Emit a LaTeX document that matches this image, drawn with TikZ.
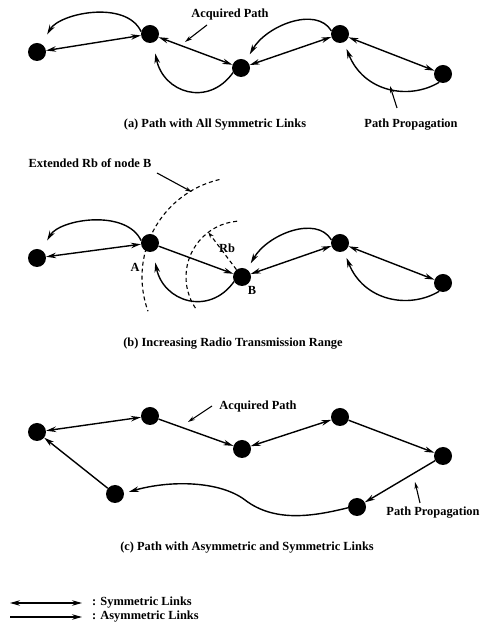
\documentclass[tikz,border=0pt]{standalone}
\usepackage{fontspec}
\setmainfont{Liberation Serif}
\usetikzlibrary{arrows.meta}
\tikzset{
  dot/.style={circle,fill=black,minimum size=18pt,inner sep=0pt},
  sym/.style={{Stealth[length=10pt,width=5.5pt]}-{Stealth[length=10pt,width=5.5pt]}, line width=1.4pt},
  asym/.style={-{Stealth[length=10pt,width=5.5pt]}, line width=1.4pt},
  lbl/.style={font=\bfseries\fontsize{12.4}{14}\selectfont, inner sep=0pt},
  pointer/.style={-{Stealth[length=7pt,width=4pt]}, line width=1.1pt},
  rng/.style={line width=1.1pt, dash pattern=on 4pt off 3pt}
}
\begin{document}
\begin{tikzpicture}[x=1pt,y=1pt]
\useasboundingbox (0,0) rectangle (482,628);
% ---------- (a) ----------
\node[dot] (a1) at (37,576) {};
\node[dot] (a2) at (150,594) {};
\node[dot] (a3) at (241,560) {};
\node[dot] (a4) at (340,594) {};
\node[dot] (a5) at (443,554) {};
\draw[sym] (a1) -- (a2);
\draw[sym] (a2) -- (a3);
\draw[sym] (a3) -- (a4);
\draw[sym] (a4) -- (a5);
\draw[asym, shorten >=11pt] (a2.165) .. controls +(-15,32) and +(18,31) .. (a1.60);
\draw[asym, shorten >=11pt] (a3.210) .. controls +(-25,-35) and +(10,-50) .. (a2.290);
\draw[asym, shorten >=7pt] (a4.160) .. controls +(-15,25) and +(20,35) .. (a3.55);
\draw[asym, shorten >=7pt] (a5.245) .. controls +(-30,-18) and +(20,-50) .. (a4.295);
\node[lbl] (acqa) at (230,613) {Acquired Path};
\coordinate (pa1) at (207,603);
\coordinate (pa2) at (185,586);
\draw[pointer] (pa1) -- (pa2);
\node[lbl] (propa) at (411,503) {Path Propagation};
\coordinate (pa3) at (397,520);
\coordinate (pa4) at (390,542);
\draw[pointer] (pa3) -- (pa4);
\node[lbl] (capa) at (215,503) {(a) Path with All Symmetric Links};
% ---------- (b) ----------
\node[dot] (b1) at (37,370) {};
\node[dot] (b2) at (150,385) {};
\node[dot] (b3) at (242,351) {};
\node[dot] (b4) at (340,385) {};
\node[dot] (b5) at (443,345) {};
\draw[sym] (b1) -- (b2);
\draw[asym] (b2) -- (b3);
\draw[sym] (b3) -- (b4);
\draw[sym] (b4) -- (b5);
\draw[asym, shorten >=11pt] (b2.165) .. controls +(-15,32) and +(18,31) .. (b1.60);
\draw[asym, shorten >=11pt] (b3.210) .. controls +(-25,-35) and +(10,-50) .. (b2.290);
\draw[asym, shorten >=7pt] (b4.160) .. controls +(-15,25) and +(20,35) .. (b3.55);
\draw[asym, shorten >=7pt] (b5.245) .. controls +(-30,-18) and +(20,-50) .. (b4.295);
\draw[rng] (b3) ++(103:100) arc[start angle=103, end angle=200, radius=100];
\draw[rng] (b3) ++(95:56) arc[start angle=95, end angle=215, radius=56];
\draw[rng, -{Stealth[length=6pt,width=4pt]}] (b3) -- ++(127:56);
\node[lbl] (rb) at (227,380) {Rb};
\node[lbl] (la) at (135,361) {A};
\node[lbl] (lb) at (252,338) {B};
\node[lbl] (ext) at (90,465) {Extended Rb of node B};
\coordinate (pb1) at (157,455);
\coordinate (pb2) at (192,436);
\draw[pointer] (pb1) -- (pb2);
\node[lbl] (capb) at (233,284) {(b) Increasing Radio Transmission Range};
% ---------- (c) ----------
\node[dot] (c1) at (37,196) {};
\node[dot] (c2) at (150,212) {};
\node[dot] (c3) at (242,179) {};
\node[dot] (c4) at (340,211) {};
\node[dot] (c5) at (443,172) {};
\node[dot] (c6) at (357,121) {};
\node[dot] (c7) at (115,134) {};
\draw[sym] (c1) -- (c2);
\draw[asym] (c2) -- (c3);
\draw[sym] (c3) -- (c4);
\draw[asym] (c4) -- (c5);
\draw[asym] (c5) -- (c6);
\draw[asym] (c7) -- (c1);
\coordinate (w) at (245,128);
\draw[asym, shorten >=5pt] (c6.185) .. controls +(-33.5,-8.3) and +(30,-23) .. (w)
   .. controls +(-25,19) and +(46.5,13.3) .. (c7.5);
\node[lbl] (acqc) at (258,221) {Acquired Path};
\coordinate (pc1) at (212,222);
\coordinate (pc2) at (188,206);
\draw[pointer] (pc1) -- (pc2);
\node[lbl] (propc) at (433,115) {Path Propagation};
\coordinate (pc3) at (420,125);
\coordinate (pc4) at (415,146);
\draw[pointer] (pc3) -- (pc4);
\node[lbl] (capc) at (247,80) {(c) Path with Asymmetric and Symmetric Links};
% ---------- legend ----------
\coordinate (l1s) at (10,25);
\coordinate (l1e) at (82,25);
\coordinate (l2s) at (10,11);
\coordinate (l2e) at (82,11);
\draw[sym, line width=1.1pt] (l1s) -- (l1e);
\draw[asym, line width=1.1pt] (l2s) -- (l2e);
\node[lbl, anchor=west] (t1) at (92,25) {: Symmetric Links};
\node[lbl, anchor=west] (t2) at (92,11) {: Asymmetric Links};
\end{tikzpicture}
\end{document}
